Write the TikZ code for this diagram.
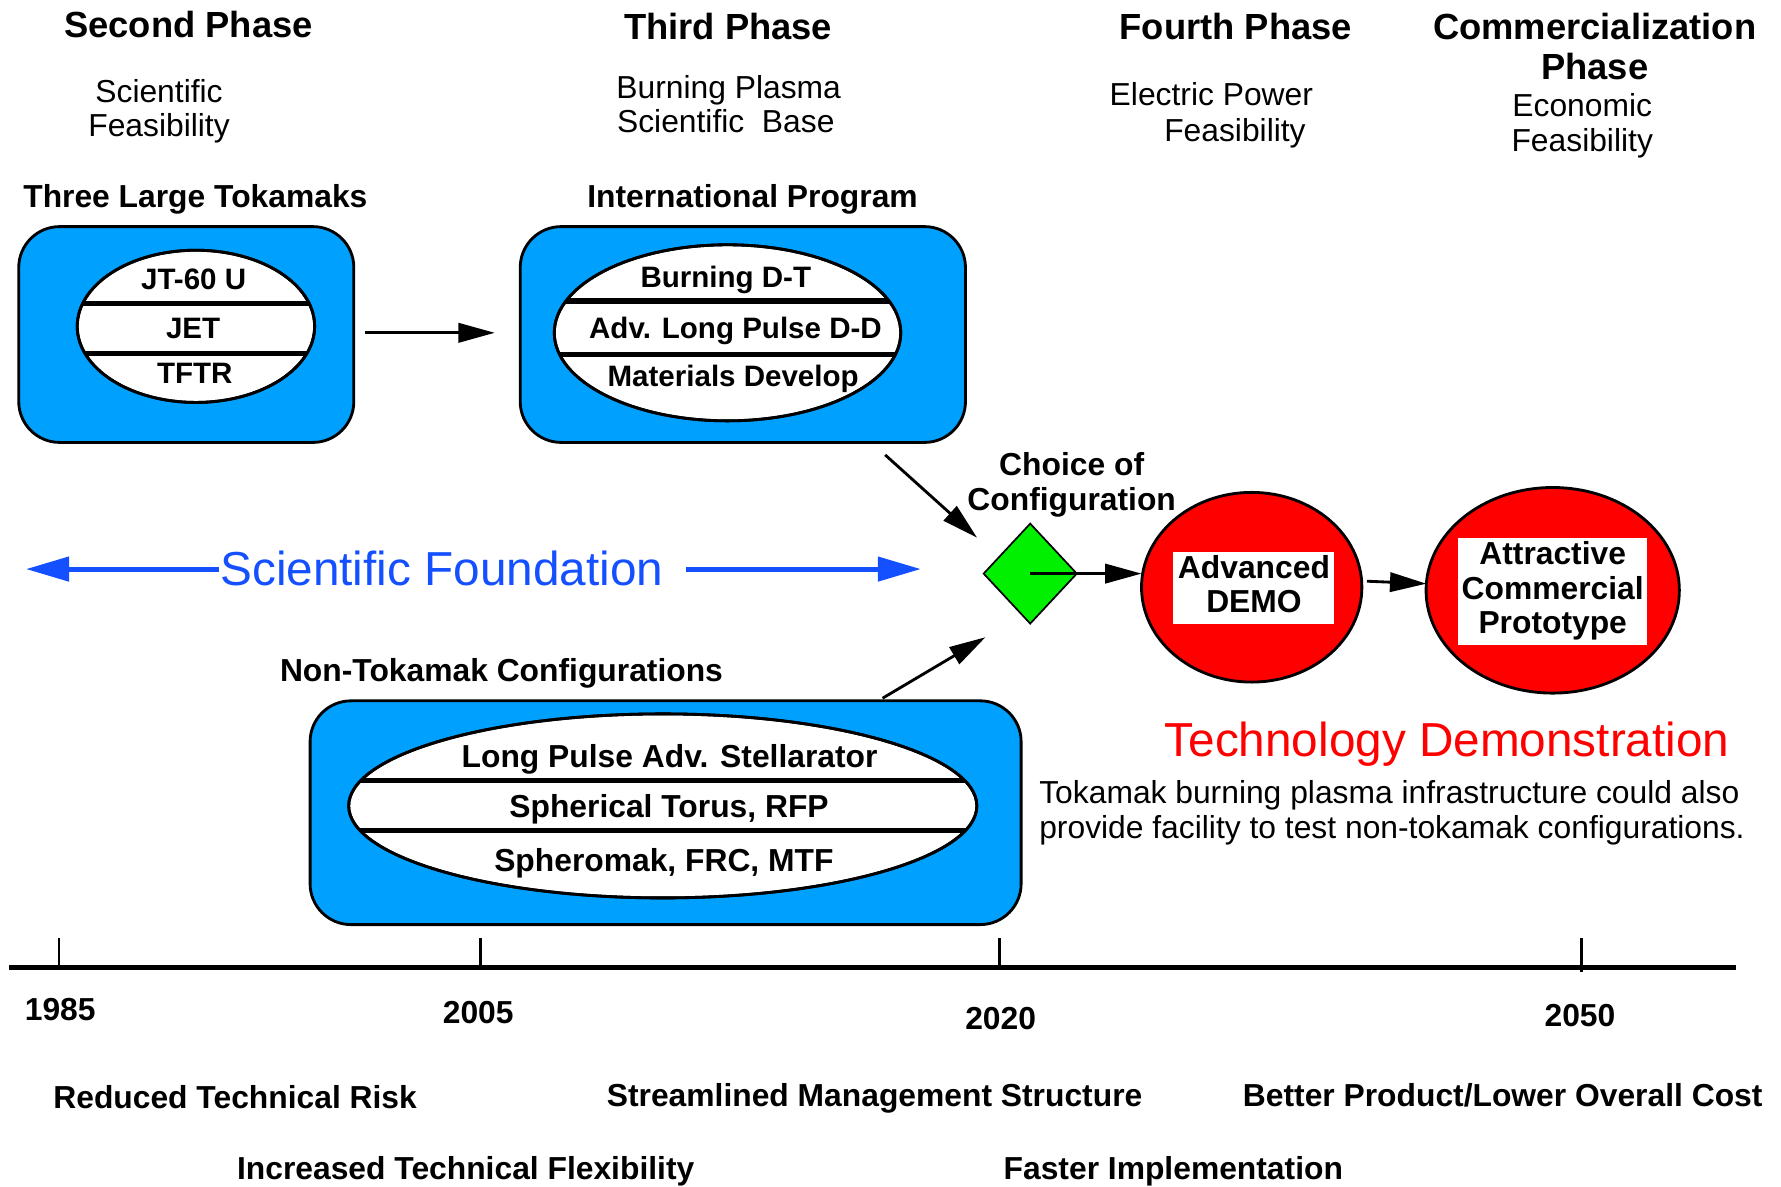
\documentclass[tikz,border=0pt]{standalone}
\usepackage{fontspec}
\setmainfont{Liberation Sans}
\usetikzlibrary{shapes.geometric,arrows.meta}
\definecolor{boxblue}{RGB}{0,160,255}
\definecolor{sfblue}{RGB}{20,80,255}
\definecolor{dgreen}{RGB}{0,240,0}
\begin{document}
\begin{tikzpicture}[x=1pt,y=-1pt,
 every node/.style={inner sep=0pt, outer sep=0pt},
 tl/.style={anchor=base, font=\fontsize{32}{36}\selectfont\bfseries},
 rg/.style={anchor=base, font=\fontsize{28}{31}\selectfont},
 bd/.style={anchor=base, font=\fontsize{28}{31}\selectfont\bfseries},
 el/.style={anchor=base, font=\fontsize{26}{30}\selectfont\bfseries},
 big/.style={anchor=base, font=\fontsize{42}{46}\selectfont},
 bbox/.style={draw=black, line width=2.5pt, fill=boxblue, rounded corners=36pt},
 oval/.style={ellipse, draw=black, line width=2.5pt, fill=white},
 divline/.style={line width=4.5pt},
 arr/.style={line width=2.5pt, -{Triangle[length=32pt,width=17pt]}},
 barr/.style={draw=sfblue, line width=4.5pt, -{Triangle[length=38pt,width=21pt]}},
 tick/.style={line width=2.5pt},
]
\useasboundingbox (0,0) rectangle (1568,1045);

% phase titles
\node[tl] (t2) at (166,33) {Second Phase};
\node[rg] (t2a) at (140,90) {Scientific};
\node[rg] (t2b) at (140,120) {Feasibility};
\node[tl] (t3) at (641,35) {Third Phase};
\node[rg] (t3a) at (641.5,87) {Burning Plasma};
\node[rg] (t3b) at (639,117) {Scientific\ \ Base};
\node[tl] (t4) at (1088,35) {Fourth Phase};
\node[rg, anchor=base west] (t4a) at (977,93) {Electric Power};
\node[rg, anchor=base west] (t4b) at (1025,124.5) {Feasibility};
\node[tl] (tc) at (1404,35) {Commercialization};
\node[tl] (tc2) at (1404,70) {Phase};
\node[rg] (tca) at (1393,102.7) {Economic};
\node[rg] (tcb) at (1393,133.5) {Feasibility};

% group labels
\node[bd] (g1) at (172,183) {Three Large Tokamaks};
\node[bd] (g2) at (662.5,183) {International Program};
\node[bd] (g3) at (441.5,600) {Non-Tokamak Configurations};

% boxes
\node[bbox, minimum width=295pt, minimum height=190pt] (b1) at (164,294.5) {};
\node[bbox, minimum width=392pt, minimum height=190pt] (b2) at (654,294.5) {};
\node[bbox, minimum width=626pt, minimum height=197pt] (b3) at (586,715.5) {};

% ellipses
\node[oval, minimum width=209pt, minimum height=134pt] (e1) at (172.5,287.3) {};
\node[oval, minimum width=305pt, minimum height=155pt] (e2) at (640.5,293) {};
\node[oval, minimum width=553pt, minimum height=162pt] (e3) at (583.5,709.5) {};

\begin{scope}
\clip (e1.center) ellipse [x radius=104.5pt, y radius=67pt];
\draw[divline] (50,267) -- (300,267);
\draw[divline] (50,311.6) -- (300,311.6);
\end{scope}
\begin{scope}
\clip (e2.center) ellipse [x radius=152.5pt, y radius=77.5pt];
\draw[divline] (470,265) -- (810,265);
\draw[divline] (470,312) -- (810,312);
\end{scope}
\begin{scope}
\clip (e3.center) ellipse [x radius=276.5pt, y radius=81pt];
\draw[divline] (290,687) -- (880,687);
\draw[divline] (290,731) -- (880,731);
\end{scope}
\draw[line width=2.5pt] (e1.center) ellipse [x radius=104.5pt, y radius=67pt];
\draw[line width=2.5pt] (e2.center) ellipse [x radius=152.5pt, y radius=77.5pt];
\draw[line width=2.5pt] (e3.center) ellipse [x radius=276.5pt, y radius=81pt];

% ellipse texts
\node[el] (e1a) at (170.5,255) {JT-60 U};
\node[el] (e1b) at (170,298) {JET};
\node[el] (e1c) at (171.5,337.5) {TFTR};
\node[el] (e2a) at (639,253.5) {Burning D-T};
\node[el] (e2b) at (647.5,298) {Adv. Long Pulse D-D};
\node[el] (e2c) at (645.5,340) {Materials Develop};
\node[bd] (e3a) at (589.5,676) {Long Pulse Adv. Stellarator};
\node[bd] (e3b) at (589,720) {Spherical Torus, RFP};
\node[bd] (e3c) at (584.5,767) {Spheromak, FRC, MTF};

% diamond and goals
\node[diamond, draw=black, line width=1.5pt, fill=dgreen, minimum width=82pt, minimum height=88pt] (dia) at (907,505) {};
\node[ellipse, draw=black, line width=2.5pt, fill=red, minimum width=194pt, minimum height=167pt] (demo) at (1102,517) {};
\node[fill=white, minimum width=142pt, minimum height=63pt] (demob) at (1103.5,517.5) {};
\node[bd] (demo1) at (1104,509) {Advanced};
\node[bd] (demo2) at (1104,539) {DEMO};
\node[ellipse, draw=black, line width=2.5pt, fill=red, minimum width=223pt, minimum height=181pt] (proto) at (1367,519.7) {};
\node[fill=white, minimum width=166.5pt, minimum height=93.5pt] (protob) at (1366.7,520.7) {};
\node[bd] (p1) at (1367,497) {Attractive};
\node[bd] (p2) at (1367,527.5) {Commercial};
\node[bd] (p3) at (1367,557.5) {Prototype};

\node[bd] (ch1) at (943.5,419) {Choice of};
\node[bd] (ch2) at (943.5,449) {Configuration};

% arrows
\coordinate (a1s) at (321,293);
\coordinate (a1e) at (435.6,293);
\draw[arr] (a1s) -- (a1e);
\coordinate (a2s) at (779.3,400.5);
\coordinate (a2e) at (860.2,473.3);
\draw[arr] (a2s) -- (a2e);
\coordinate (a3s) at (777,614.7);
\coordinate (a3e) at (867.6,561);
\draw[arr] (a3s) -- (a3e);
\draw[arr] (dia.center) -- (demo.west |- dia.center);
\coordinate (a4s) at (1203.5,511.7);
\draw[arr] (a4s) -- (proto.177);

% scientific foundation
\node[big, text=sfblue] (sf) at (389,515.6) {Scientific Foundation};
\coordinate (sfl) at (22.8,501);
\coordinate (sfr) at (810.8,501);
\draw[barr] ([xshift=-1pt]sf.west |- sfl) -- (sfl);
\draw[barr] ([xshift=20pt]sf.east |- sfr) -- (sfr);

% technology demonstration
\node[big, text=red] (td) at (1274,666) {Technology Demonstration};
\node[rg, anchor=base west] (tk1) at (915,707) {Tokamak burning plasma infrastructure could also};
\node[rg, anchor=base west] (tk2) at (915,738) {provide facility to test non-tokamak configurations.};

% timeline
\coordinate (tl0) at (8,852);
\coordinate (tl1) at (1528,852);
\draw[line width=4.5pt] (tl0) -- (tl1);
\coordinate (k1) at (52,826); \coordinate (k2) at (423,826);
\coordinate (k3) at (880,826); \coordinate (k4) at (1392,826);
\draw[tick] (k1) -- (k1 |- tl0);
\draw[tick] (k2) -- (k2 |- tl0);
\draw[tick] (k3) -- (k3 |- tl0);
\draw[tick] (k4) -- ([yshift=-4pt]k4 |- tl0);
\node[bd] (y1) at (53,898.5) {1985};
\node[bd] (y2) at (421,901.5) {2005};
\node[bd] (y3) at (881,906) {2020};
\node[bd] (y4) at (1391,903.8) {2050};

% bottom benefits
\node[bd] (r1) at (207,975.6) {Reduced Technical Risk};
\node[bd] (r2) at (770,974) {Streamlined Management Structure};
\node[bd] (r3) at (1323,974) {Better Product/Lower Overall Cost};
\node[bd] (r4) at (410,1038.7) {Increased Technical Flexibility};
\node[bd] (r5) at (1033,1038.7) {Faster Implementation};
\end{tikzpicture}
\end{document}
